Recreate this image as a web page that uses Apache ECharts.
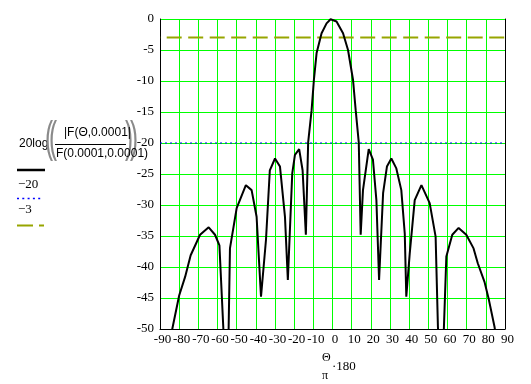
<!DOCTYPE html>
<html>
<head>
<meta charset="utf-8">
<script src="https://cdn.jsdelivr.net/npm/echarts@6/dist/echarts.min.js"></script>
<style>
html,body{margin:0;padding:0;background:#fff;}
#c{width:531px;height:384px;}
</style>
</head>
<body>
<div id="c"></div>
<script>
// Angle (degrees) and normalised pattern (dB)
var thetaDeg = [-90,-83.6,-80,-76.9,-74,-69.1,-64.6,-61.3,-59,-57,-55.6,-54.2,-53.5,-50,-45.2,-42.2,-39.6,-37.3,-34.7,-32.7,-30,-27.4,-24.8,-23.3,-21,-19.6,-17.4,-15.6,-13.9,-12.7,-10.9,-9.7,-8.3,-5.7,-3.1,-1,0,2.1,5.5,8.1,10.7,12.1,13.7,14.7,15.9,18.9,21.1,22.9,24.3,26.4,28.4,30.7,33.3,35.9,37.7,38.5,40.3,42.9,46.4,50.7,53.8,55,56.5,58.1,59.4,62.5,65.8,69.8,73.6,75.8,79.3,81.6,84.5,90];
var gainDb = [-60,-50,-44.6,-41.6,-38.1,-34.8,-33.6,-34.8,-36.5,-49.6,-60,-50,-37,-30.5,-26.8,-27.6,-31.9,-44.8,-35.6,-24.4,-22.5,-23.8,-31.9,-42.1,-24.9,-21.9,-21,-24.4,-34.8,-19.9,-14.7,-9.8,-5.5,-2.3,-0.7,-0.05,0,-0.4,-2.3,-5,-9.8,-14.7,-19.9,-34.8,-27.6,-21,-22.7,-29.2,-42.1,-28.1,-23.8,-22.5,-24.1,-27.6,-34.6,-44.8,-37.8,-29.2,-26.8,-29.7,-35.1,-49.6,-60,-50,-38.3,-34.8,-33.7,-34.8,-37,-39.4,-42.4,-45.3,-49.6,-60];
var levelA = -20;   // blue dotted reference
var levelB = -3;    // olive dashed reference
var xTicks = {min:-90, max:90, step:10};
var yTicks = {min:-50, max:0, step:5};

var curve = thetaDeg.map(function(t,i){ return [t, gainDb[i]]; });
var refA = [[xTicks.min, levelA],[xTicks.max, levelA]];
var refB = [[xTicks.min, levelB],[xTicks.max, levelB]];

var chart = echarts.init(document.getElementById('c'), null, {renderer:'canvas'});
var serif = 'Liberation Serif';
var sans = 'Liberation Sans';
var olive = '#97a500';
function paren(ch, x){
  return {type:'text', left:x, top:118, scaleX:0.55,
          style:{text:ch, font:'44px '+sans, fill:'#8a8a8a'}};
}
chart.setOption({
  animation:false,
  backgroundColor:'#ffffff',
  grid:{left:160, right:26, top:19, bottom:55},
  xAxis:{
    type:'value', min:xTicks.min, max:xTicks.max, interval:xTicks.step,
    axisLine:{show:true, onZero:false, lineStyle:{color:'#000', width:1}},
    axisTick:{show:false},
    splitLine:{show:true, lineStyle:{color:'#00ff00', width:1}},
    axisLabel:{color:'#000', fontFamily:serif, fontSize:13, margin:4, padding:[0,0,0,5]}
  },
  yAxis:[{
    type:'value', min:yTicks.min, max:yTicks.max, interval:yTicks.step,
    axisLine:{show:true, onZero:false, lineStyle:{color:'#000', width:1}},
    axisTick:{show:false},
    splitLine:{show:true, lineStyle:{color:'#00ff00', width:1}},
    axisLabel:{color:'#000', fontFamily:serif, fontSize:13, margin:6}
  },{
    type:'value', position:'right', min:yTicks.min, max:yTicks.max, interval:yTicks.step,
    axisLine:{show:true, onZero:false, lineStyle:{color:'#000', width:1}},
    axisTick:{show:false}, axisLabel:{show:false}, splitLine:{show:false}
  }],
  series:[
    {type:'line', data:refA, symbol:'none', silent:true, z:3,
     lineStyle:{color:'#0000ff', width:1, type:[2,3]}},
    {type:'line', data:refB, symbol:'none', silent:true, z:3,
     lineStyle:{color:olive, width:2, type:[15,6.5], dashOffset:14.8}},
    {type:'line', data:curve, symbol:'none', silent:true, z:4, clip:true,
     lineStyle:{color:'#000', width:2}}
  ],
  graphic:[
    {type:'text', left:19, top:138, style:{text:'20log', font:'12px '+sans, fill:'#000'}},
    paren('(', 45), paren('(', 49), paren(')', 125), paren(')', 130),
    {type:'text', left:64, top:127, style:{text:'|F(\u0398,0.0001|', font:'12px '+sans, fill:'#000'}},
    {type:'line', shape:{x1:55, y1:144.5, x2:126, y2:144.5}, style:{stroke:'#000', lineWidth:1}},
    {type:'text', left:56, top:148, style:{text:'F(0.0001,0.0001)', font:'12px '+sans, fill:'#000'}},
    {type:'line', shape:{x1:17, y1:170, x2:45, y2:170}, style:{stroke:'#000', lineWidth:2.5}},
    {type:'text', left:18, top:178, style:{text:'\u221220', font:'13px '+serif, fill:'#000'}},
    {type:'line', shape:{x1:17, y1:198.5, x2:42, y2:198.5}, style:{stroke:'#0000ff', lineWidth:1.5, lineDash:[2,3.3]}},
    {type:'text', left:18, top:203, style:{text:'\u22123', font:'13px '+serif, fill:'#000'}},
    {type:'line', shape:{x1:17, y1:225.5, x2:44, y2:225.5}, style:{stroke:olive, lineWidth:2, lineDash:[16,6]}},
    {type:'text', left:322, top:352, style:{text:'\u0398', font:'12px '+serif, fill:'#000'}},
    {type:'text', left:322, top:370, style:{text:'\u03c0', font:'12px '+serif, fill:'#000'}},
    {type:'text', left:332, top:360, style:{text:'\u00b7180', font:'13px '+serif, fill:'#000'}}
  ]
});
</script>
</body>
</html>
